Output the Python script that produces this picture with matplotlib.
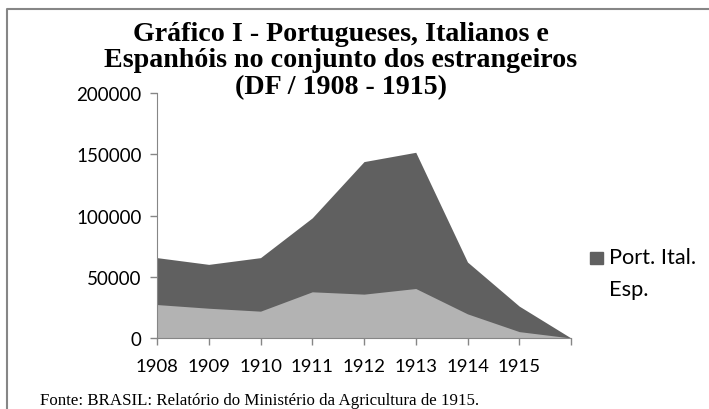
import numpy as np
import matplotlib.pyplot as plt
from matplotlib.patches import Rectangle
from matplotlib.lines import Line2D

# valores
anos = ['1908', '1909', '1910', '1911', '1912', '1913', '1914', '1915', '']
port_ital_esp = [65600, 60100, 65600, 98100, 144000, 151600, 62000, 26000, 0]
outros = [27300, 24300, 21900, 37700, 35800, 40400, 19700, 5200, 0]

W, H = 709, 410
fig = plt.figure(figsize=(W / 100, H / 100), dpi=100)

ax = fig.add_axes([157 / W, 71 / H, 414 / W, 245 / H])
x = np.arange(len(anos))
ax.fill_between(x, 0, port_ital_esp, color='#606060', lw=0, label='Port. Ital.\nEsp.')
ax.fill_between(x, 0, outros, color='#b3b3b3', lw=0)

ax.set_xlim(0, len(anos) - 1)
ax.set_ylim(0, 200000)
ax.set_yticks([0, 50000, 100000, 150000, 200000])
ax.set_yticklabels(['0', '50000', '100000', '150000', '200000'],
                   fontsize=13.5, family='Lato')
ax.set_xticks(x)
ax.set_xticklabels(anos, fontsize=13.3, family='Lato')
for s in ['top', 'right']:
    ax.spines[s].set_visible(False)
for s in ['left', 'bottom']:
    ax.spines[s].set_color('#868686')
ax.tick_params(axis='both', color='#868686', length=5, width=1)
ax.tick_params(axis='y', pad=6)
ax.tick_params(axis='x', pad=9.5)

# legenda
fig.patches.append(Rectangle((590 / W, 1 - 265 / H), 13 / W, 12 / H,
                             transform=fig.transFigure, color='#606060'))
fig.text(609 / W, 1 - 258 / H, 'Port. Ital.', fontsize=15.7, family='Lato', va='center')
fig.text(609 / W, 1 - 290 / H, 'Esp.', fontsize=15.7, family='Lato', va='center')

# titulo
fig.text(341 / W, 1 - 61 / H,
         'Gráfico I - Portugueses, Italianos e\nEspanhóis no conjunto dos estrangeiros\n(DF / 1908 - 1915)',
         ha='center', va='center', fontsize=20.2, fontweight='bold',
         family='Liberation Serif', linespacing=1.1)

# fonte
fig.text(40 / W, 1 - 401 / H,
         'Fonte: BRASIL: Relatório do Ministério da Agricultura de 1915.',
         fontsize=12.2, family='Liberation Serif', va='center')

# moldura
fig.lines.append(Line2D([7 / W, 7 / W, 1], [0, 1 - 10 / H, 1 - 10 / H],
                        transform=fig.transFigure, color='#868686', lw=1.5))

fig.savefig('out.png', dpi=100)
